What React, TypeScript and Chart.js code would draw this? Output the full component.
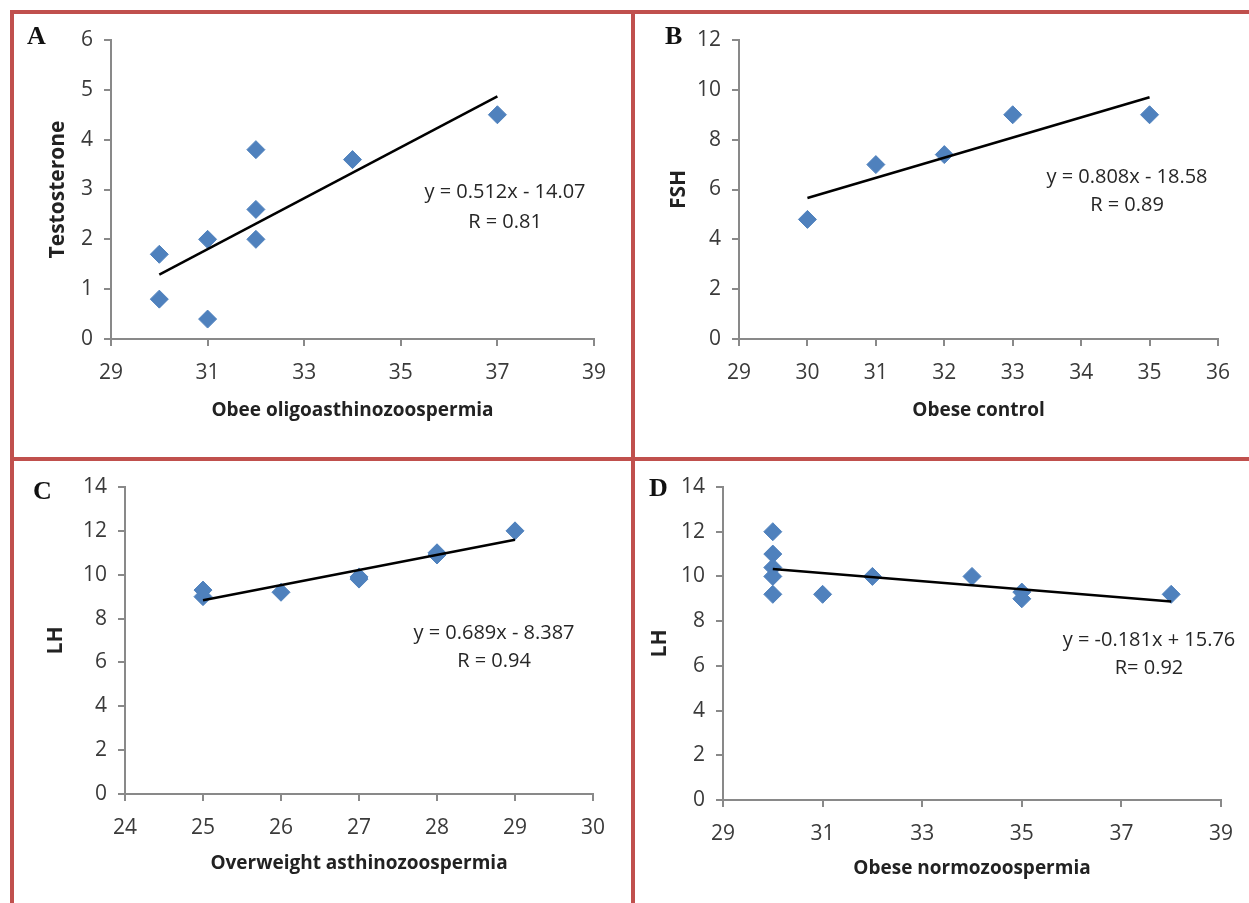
import React, { useEffect, useRef } from "react";
import { Chart, registerables } from "chart.js";

Chart.register(...registerables);

// ---------- Panel A ----------
const aX = [30, 30, 31, 31, 32, 32, 32, 34, 37];
const aY = [1.7, 0.8, 2.0, 0.4, 3.8, 2.6, 2.0, 3.6, 4.5];
const aTrendX = [30, 37];
const aTrendY = [1.29, 4.87];
const aXTicks = [29, 31, 33, 35, 37, 39];
const aYTicks = [0, 1, 2, 3, 4, 5, 6];
const aEquation = ["y = 0.512x - 14.07", "R = 0.81"];

// ---------- Panel B ----------
const bX = [30, 31, 32, 33, 35];
const bY = [4.8, 7.0, 7.4, 9.0, 9.0];
const bTrendX = [30, 35];
const bTrendY = [5.66, 9.7];
const bXTicks = [29, 30, 31, 32, 33, 34, 35, 36];
const bYTicks = [0, 2, 4, 6, 8, 10, 12];
const bEquation = ["y = 0.808x - 18.58", "R = 0.89"];

// ---------- Panel C ----------
const cX = [25, 25, 26, 27, 27, 28, 28, 29];
const cY = [9.3, 9.0, 9.2, 9.8, 9.9, 11.0, 10.9, 12.0];
const cTrendX = [25, 29];
const cTrendY = [8.84, 11.59];
const cXTicks = [24, 25, 26, 27, 28, 29, 30];
const cYTicks = [0, 2, 4, 6, 8, 10, 12, 14];
const cEquation = ["y = 0.689x - 8.387", "R = 0.94"];

// ---------- Panel D ----------
const dX = [30, 30, 30, 30, 30, 31, 32, 34, 35, 35, 38];
const dY = [12.0, 11.0, 10.4, 10.0, 9.2, 9.2, 10.0, 10.0, 9.3, 9.0, 9.2];
const dTrendX = [30, 38];
const dTrendY = [10.33, 8.88];
const dXTicks = [29, 31, 33, 35, 37, 39];
const dYTicks = [0, 2, 4, 6, 8, 10, 12, 14];
const dEquation = ["y = -0.181x + 15.76", "R= 0.92"];

const AXIS = "#898989";
const TICK_TEXT = "#3a3a3a";
const TITLE_TEXT = "#222222";
const MARKER = "#4f81bd";
const FRAME = "#c0504d";
const SANS = "'Open Sans', 'Noto Sans', sans-serif";

type Box = { left: number; top: number; width: number; height: number };
type Area = { left: number; top: number; right: number; bottom: number };

type Panel = {
  letter: string;
  xs: number[];
  ys: number[];
  tx: number[];
  ty: number[];
  xTicks: number[];
  yTicks: number[];
  xTitle: string;
  yTitle: string;
  eq: string[];
  box: Box;
  area: Area;
  yTitleCx: number;
  xTitleCy: number;
  eqCx: number;
  eqBase: number[];
  letterPos: { x: number; capTop: number };
};

const panels: Panel[] = [
  {
    letter: "A",
    xs: aX, ys: aY, tx: aTrendX, ty: aTrendY,
    xTicks: aXTicks, yTicks: aYTicks,
    xTitle: "Obee oligoasthinozoospermia", yTitle: "Testosterone",
    eq: aEquation,
    box: { left: 14, top: 14, width: 617, height: 443 },
    area: { left: 111, top: 40, right: 594, bottom: 339 },
    yTitleCx: 58, xTitleCy: 411,
    eqCx: 505, eqBase: [199, 229],
    letterPos: { x: 27, capTop: 28 },
  },
  {
    letter: "B",
    xs: bX, ys: bY, tx: bTrendX, ty: bTrendY,
    xTicks: bXTicks, yTicks: bYTicks,
    xTitle: "Obese control", yTitle: "FSH",
    eq: bEquation,
    box: { left: 635, top: 14, width: 614, height: 443 },
    area: { left: 739, top: 40, right: 1218, bottom: 339 },
    yTitleCx: 679, xTitleCy: 411,
    eqCx: 1127, eqBase: [184, 212],
    letterPos: { x: 665, capTop: 28 },
  },
  {
    letter: "C",
    xs: cX, ys: cY, tx: cTrendX, ty: cTrendY,
    xTicks: cXTicks, yTicks: cYTicks,
    xTitle: "Overweight asthinozoospermia", yTitle: "LH",
    eq: cEquation,
    box: { left: 14, top: 461, width: 617, height: 442 },
    area: { left: 125, top: 487, right: 593, bottom: 794 },
    yTitleCx: 56, xTitleCy: 864,
    eqCx: 494, eqBase: [640, 668],
    letterPos: { x: 33, capTop: 483 },
  },
  {
    letter: "D",
    xs: dX, ys: dY, tx: dTrendX, ty: dTrendY,
    xTicks: dXTicks, yTicks: dYTicks,
    xTitle: "Obese normozoospermia", yTitle: "LH",
    eq: dEquation,
    box: { left: 635, top: 461, width: 614, height: 442 },
    area: { left: 723, top: 487, right: 1221, bottom: 800 },
    yTitleCx: 660, xTitleCy: 869,
    eqCx: 1149, eqBase: [647, 675],
    letterPos: { x: 649, capTop: 480 },
  },
];

const TICK_FONT = 21;
const TITLE_FONT = 19;
const YTITLE_FONT = 21;
const EQ_FONT = 20;
const LETTER_FONT = 26;

function PanelChart({ p }: { p: Panel }) {
  const ref = useRef<HTMLCanvasElement | null>(null);
  useEffect(() => {
    const canvas = ref.current;
    if (!canvas) return;
    const { box, area } = p;
    const titleLH = TITLE_FONT * 1.2;
    const yTitleLH = YTITLE_FONT * 1.2;
    const yAxisWidth = area.left - box.left;
    const xAxisHeight = box.top + box.height - area.bottom;
    const yTitlePad = p.yTitleCx - box.left - yTitleLH / 2;
    const xTitlePad = box.top + box.height - p.xTitleCy - titleLH / 2;

    const chart = new Chart(canvas, {
      type: "scatter",
      data: {
        datasets: [
          {
            type: "line",
            data: p.tx.map((x, i) => ({ x, y: p.ty[i] })),
            borderColor: "#000000",
            borderWidth: 2.5,
            pointRadius: 0,
            fill: false,
          } as any,
          {
            type: "scatter",
            data: p.xs.map((x, i) => ({ x, y: p.ys[i] })),
            pointStyle: "rectRot",
            pointRadius: 9,
            backgroundColor: MARKER,
            borderColor: MARKER,
            borderWidth: 1,
          },
        ],
      },
      options: {
        animation: false,
        responsive: false,
        maintainAspectRatio: false,
        layout: {
          padding: {
            left: 0,
            top: area.top - box.top,
            right: box.left + box.width - area.right,
            bottom: 0,
          },
        },
        plugins: {
          legend: { display: false },
          tooltip: { enabled: false },
        },
        scales: {
          x: {
            type: "linear",
            min: p.xTicks[0],
            max: p.xTicks[p.xTicks.length - 1],
            afterBuildTicks: (s: any) => {
              s.ticks = p.xTicks.map((v) => ({ value: v }));
            },
            afterFit: (s: any) => {
              s.height = xAxisHeight;
            },
            ticks: {
              color: TICK_TEXT,
              font: { family: SANS, size: TICK_FONT },
              padding: 14,
              maxRotation: 0,
              autoSkip: false,
            },
            grid: {
              display: true,
              drawOnChartArea: false,
              drawTicks: true,
              tickLength: 7,
              color: AXIS,
              lineWidth: 2,
            },
            border: { display: true, color: AXIS, width: 2 },
            title: {
              display: true,
              text: p.xTitle,
              color: TITLE_TEXT,
              font: { family: SANS, size: TITLE_FONT, weight: "bold" },
              padding: { top: 0, bottom: xTitlePad },
            },
          },
          y: {
            type: "linear",
            min: p.yTicks[0],
            max: p.yTicks[p.yTicks.length - 1],
            afterBuildTicks: (s: any) => {
              s.ticks = p.yTicks.map((v) => ({ value: v }));
            },
            afterFit: (s: any) => {
              s.width = yAxisWidth;
            },
            ticks: {
              color: TICK_TEXT,
              font: { family: SANS, size: TICK_FONT },
              padding: 11,
              autoSkip: false,
            },
            grid: {
              display: true,
              drawOnChartArea: false,
              drawTicks: true,
              tickLength: 7,
              color: AXIS,
              lineWidth: 2,
            },
            border: { display: true, color: AXIS, width: 2 },
            title: {
              display: true,
              text: p.yTitle,
              color: TITLE_TEXT,
              font: { family: SANS, size: YTITLE_FONT, weight: "bold" },
              padding: { top: yTitlePad, bottom: 0 },
            },
          },
        },
      },
    });
    return () => chart.destroy();
  }, [p]);

  return (
    <canvas
      ref={ref}
      width={p.box.width}
      height={p.box.height}
      style={{
        position: "absolute",
        left: p.box.left,
        top: p.box.top,
        width: p.box.width,
        height: p.box.height,
      }}
    />
  );
}

function Overlay({ p }: { p: Panel }) {
  const eqTop = (base: number) => base - 0.888 * EQ_FONT;
  const letterTop = p.letterPos.capTop - (0.8375 - 0.662) * LETTER_FONT;
  return (
    <>
      <div
        style={{
          position: "absolute",
          left: p.letterPos.x,
          top: letterTop,
          fontFamily: "'Liberation Serif', 'Times New Roman', serif",
          fontWeight: "bold",
          fontSize: LETTER_FONT,
          lineHeight: 1,
          color: "#111",
        }}
      >
        {p.letter}
      </div>
      {p.eq.map((t, i) => (
        <div
          key={i}
          style={{
            position: "absolute",
            left: p.eqCx - 150,
            width: 300,
            top: eqTop(p.eqBase[i]),
            textAlign: "center",
            fontFamily: SANS,
            fontSize: EQ_FONT,
            lineHeight: 1,
            color: "#262626",
            whiteSpace: "nowrap",
          }}
        >
          {t}
        </div>
      ))}
    </>
  );
}

export default function App() {
  const line = (l: number, t: number, w: number, h: number) => (
    <div style={{ position: "absolute", left: l, top: t, width: w, height: h, background: FRAME }} />
  );
  return (
    <div
      style={{
        position: "absolute",
        left: 0,
        top: 0,
        width: 1249,
        height: 903,
        overflow: "hidden",
        background: "#ffffff",
      }}
    >
      {line(10, 10, 1239, 4)}
      {line(10, 10, 4, 893)}
      {line(631, 10, 4, 893)}
      {line(10, 457, 1239, 4)}
      {panels.map((p) => (
        <PanelChart key={p.letter} p={p} />
      ))}
      {panels.map((p) => (
        <Overlay key={p.letter} p={p} />
      ))}
    </div>
  );
}
